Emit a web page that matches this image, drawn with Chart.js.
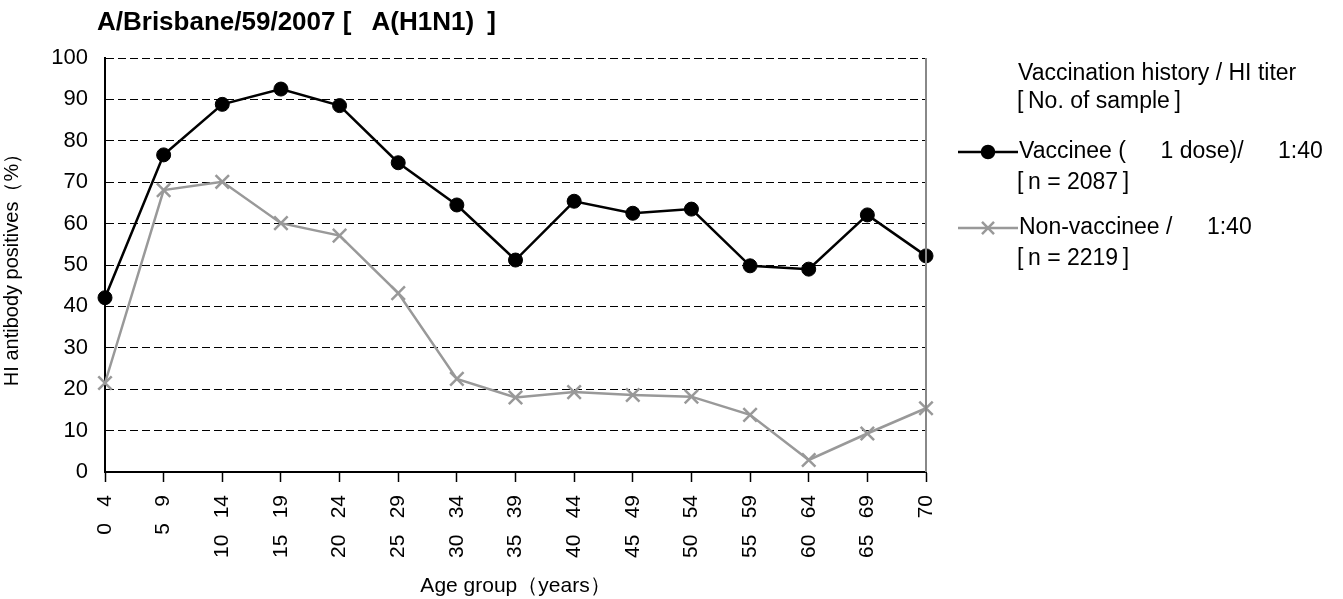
<!DOCTYPE html>
<html>
<head>
<meta charset="utf-8">
<script src="https://cdn.jsdelivr.net/npm/chart.js@4.4.1/dist/chart.umd.min.js"></script>
<style>
  html, body { margin: 0; padding: 0; background: #fff; }
  #wrap { width: 1343px; height: 599px; }
</style>
</head>
<body>
<div id="wrap"><canvas id="hiChart" width="1343" height="599"></canvas></div>
<script>
// DATA
const ageGroups = ['0\u2002 4', '5\u2002 9', '10\u2002 14', '15\u2002 19', '20\u2002 24', '25\u2002 29', '30\u2002 34',
  '35\u2002 39', '40\u2002 44', '45\u2002 49', '50\u2002 54', '55\u2002 59', '60\u2002 64', '65\u2002 69', '70'];
const vaccinee = [42.1, 76.6, 88.8, 92.5, 88.5, 74.7, 64.5, 51.2, 65.4, 62.5, 63.5, 49.8, 49.0, 62.1, 52.2];
const nonVaccinee = [21.5, 68.1, 70.1, 60.1, 57.1, 43.2, 22.5, 18.0, 19.3, 18.6, 18.2, 13.8, 2.9, 9.3, 15.4];
const yTicks = [0, 10, 20, 30, 40, 50, 60, 70, 80, 90, 100];

const chartTitle = 'A/Brisbane/59/2007 [\u2002 A(H1N1)\u2002]';
const legendTitle = ['Vaccination history / HI titer', '[\u2009No. of sample\u2009]'];
const legendSub = ['[\u2009n = 2087\u2009]', '[\u2009n = 2219\u2009]'];

const FONT = '"Liberation Sans", Arial, sans-serif';

// title, frame and legend drawn on top of the chart
const extrasPlugin = {
  id: 'extras',
  afterDraw(chart) {
    const ctx = chart.ctx;
    const area = chart.chartArea;
    ctx.save();

    // right border of the plot area
    ctx.strokeStyle = '#888';
    ctx.lineWidth = 2;
    ctx.beginPath();
    ctx.moveTo(area.right, area.top);
    ctx.lineTo(area.right, area.bottom);
    ctx.stroke();

    // chart title
    ctx.fillStyle = '#000';
    ctx.font = 'bold 26px ' + FONT;
    ctx.textBaseline = 'middle';
    ctx.textAlign = 'left';
    ctx.fillText(chartTitle, 97, 23);

    // legend
    ctx.font = '23px ' + FONT;
    ctx.fillText(legendTitle[0], 1018, 74);
    ctx.fillText(legendTitle[1], 1017, 102);

    const rows = [152, 228];
    chart.data.datasets.forEach((ds, i) => {
      const y = rows[i];
      ctx.strokeStyle = ds.borderColor;
      ctx.lineWidth = ds.borderWidth;
      ctx.beginPath();
      ctx.moveTo(958, y);
      ctx.lineTo(1018, y);
      ctx.stroke();
      ctx.fillStyle = ds.pointBackgroundColor || ds.borderColor;
      Chart.helpers.drawPoint(ctx, {
        pointStyle: ds.pointStyle,
        radius: ds.pointRadius - 1,
        borderWidth: ds.pointBorderWidth
      }, 988, y);
      ctx.fillStyle = '#000';
      ctx.fillText(ds.label, 1019, y);
      ctx.fillText(legendSub[i], 1017, y + 31);
    });
    ctx.restore();
  }
};

const ctx = document.getElementById('hiChart').getContext('2d');
new Chart(ctx, {
  type: 'line',
  data: {
    labels: ageGroups,
    datasets: [
      {
        label: 'Vaccinee (\u2003\u20021 dose)/\u2003\u20021:40',
        data: vaccinee,
        borderColor: '#000',
        backgroundColor: '#000',
        borderWidth: 2.5,
        pointStyle: 'circle',
        pointRadius: 7,
        pointBorderWidth: 1,
        pointBackgroundColor: '#000',
        pointBorderColor: '#000',
        tension: 0
      },
      {
        label: 'Non-vaccinee /\u2003\u20021:40',
        data: nonVaccinee,
        borderColor: '#999',
        backgroundColor: '#999',
        borderWidth: 2.5,
        pointStyle: 'crossRot',
        pointRadius: 9.5,
        pointBorderWidth: 2.5,
        pointBorderColor: '#999',
        tension: 0
      }
    ]
  },
  options: {
    responsive: false,
    animation: false,
    layout: { padding: { top: 58, right: 417, left: 0, bottom: 0 } },
    plugins: {
      legend: { display: false },
      title: { display: false },
      tooltip: { enabled: false }
    },
    scales: {
      x: {
        offset: false,
        afterFit(scale) { scale.height = 127; },
        grid: { drawOnChartArea: false, tickLength: 10, tickColor: '#000', tickWidth: 1.5 },
        border: { color: '#000', width: 2 },
        ticks: {
          minRotation: 90,
          maxRotation: 90,
          autoSkip: false,
          color: '#000',
          padding: 13,
          font: { family: FONT, size: 21 }
        },
        title: {
          display: true,
          text: 'Age group\uFF08years\uFF09',
          color: '#000',
          padding: { top: 0, bottom: 0 },
          font: { family: FONT, size: 21 }
        }
      },
      y: {
        min: 0,
        max: 100,
        afterFit(scale) { scale.width = 105; },
        afterBuildTicks(scale) { scale.ticks = yTicks.map(v => ({ value: v })); },
        grid: {
          color: c => (c.tick && c.tick.value === 0 ? 'rgba(0,0,0,0)' : '#000'),
          lineWidth: 1,
          drawTicks: false
        },
        border: { color: '#000', width: 2, dash: [8, 4] },
        ticks: {
          color: '#000',
          padding: 17,
          font: { family: FONT, size: 22 }
        },
        title: {
          display: true,
          text: 'HI antibody positives\uFF08%\uFF09',
          color: '#000',
          padding: { top: 0, bottom: 0 },
          font: { family: FONT, size: 20 }
        }
      }
    }
  },
  plugins: [extrasPlugin]
});
</script>
</body>
</html>
